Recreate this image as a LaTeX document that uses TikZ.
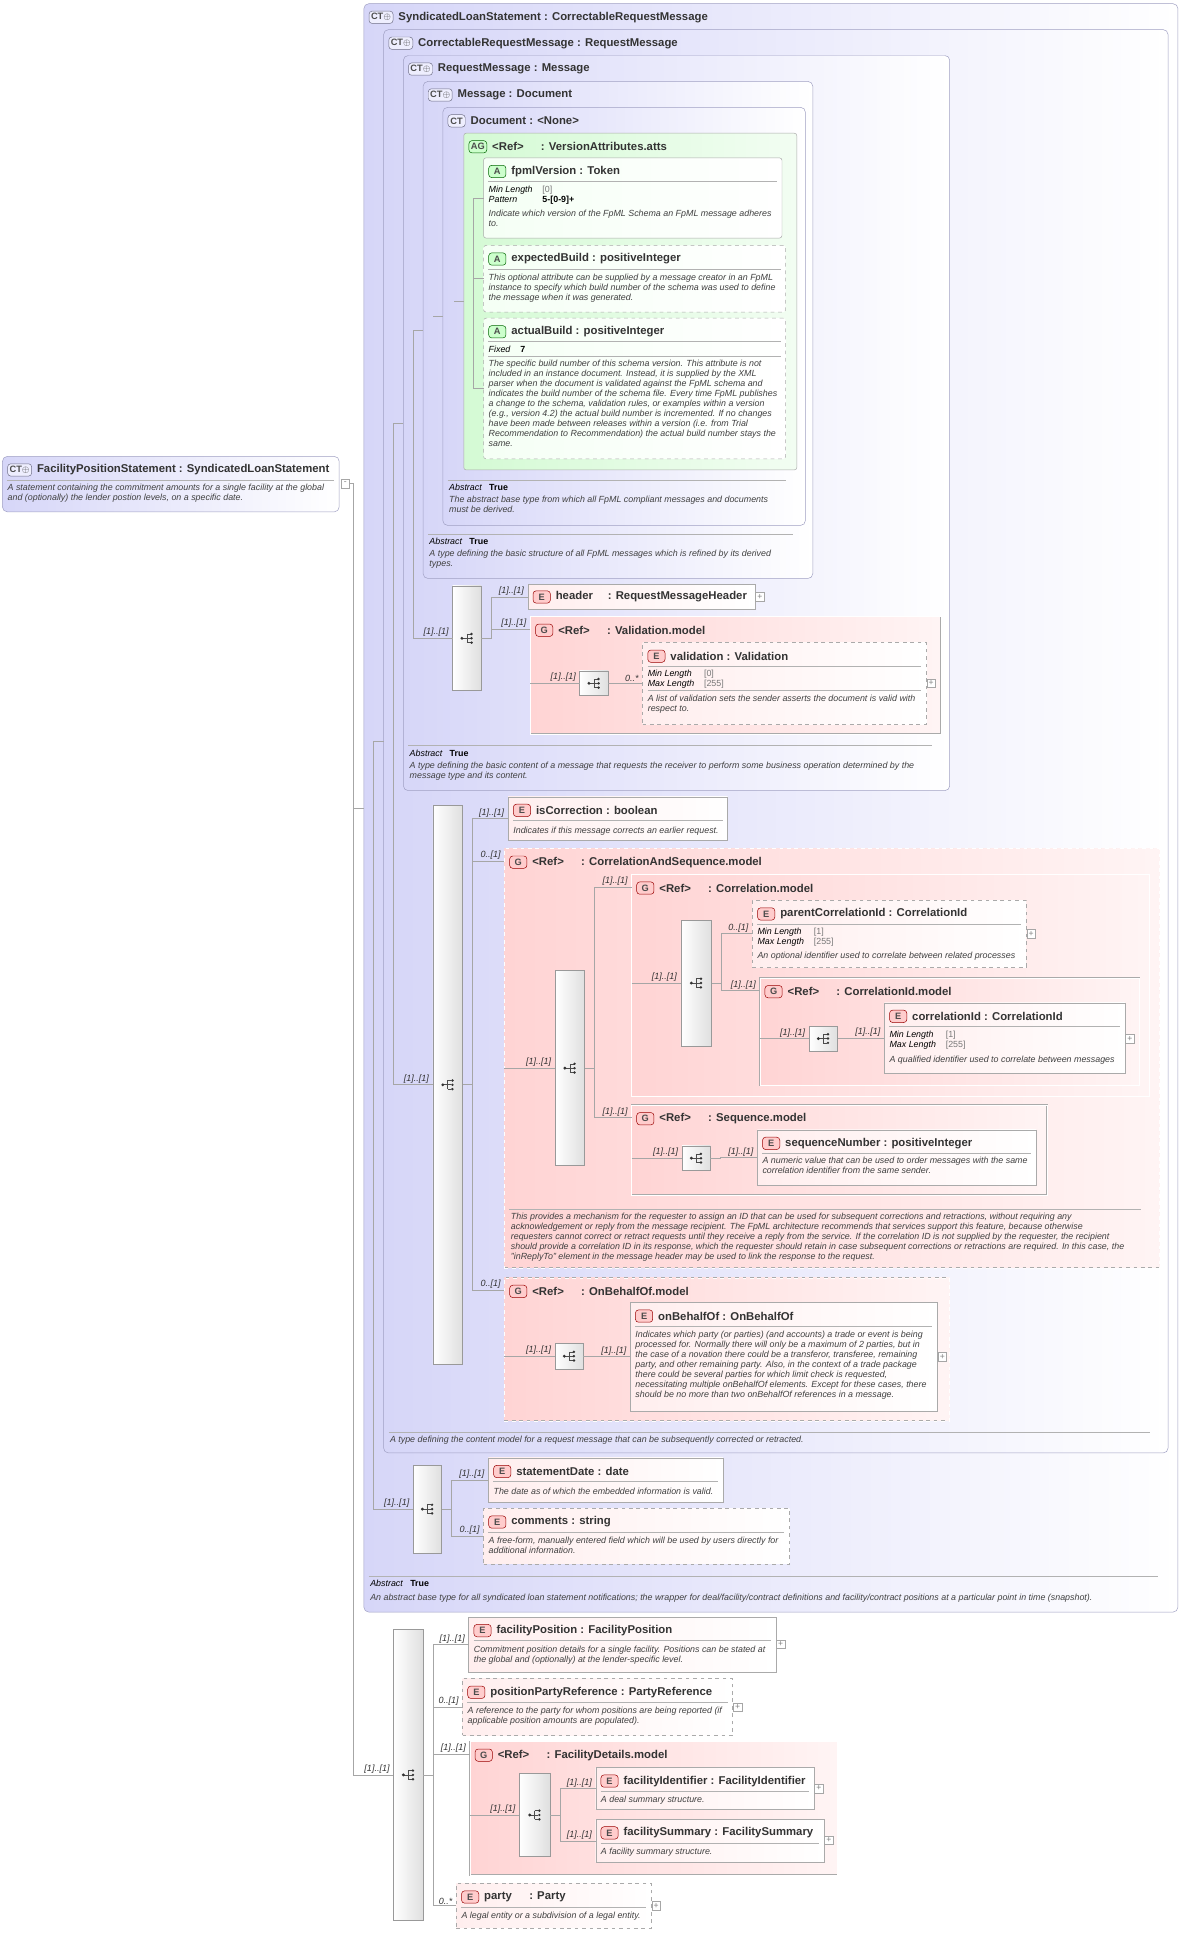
\documentclass[tikz,border=0pt]{standalone}
\usepackage{fontspec}
\setmainfont{Liberation Sans}
\usetikzlibrary{calc}
\definecolor{ctL}{RGB}{214,214,248}
\definecolor{ctB}{RGB}{160,160,195}
\definecolor{agL}{RGB}{212,250,212}
\definecolor{grpL}{RGB}{255,212,212}
\definecolor{elL}{RGB}{255,238,238}
\definecolor{bxB}{RGB}{170,170,170}
\definecolor{facG}{RGB}{120,120,120}
\tikzset{
  base/.style={inner sep=0pt, outer sep=0pt, draw=bxB},
  ctbox/.style={base, draw=ctB, rounded corners=4pt, left color=ctL, right color=white},
  agbox/.style={base, rounded corners=2pt, left color=agL, right color=agL!30},
  abox/.style={base, rounded corners=2pt, left color=green!4, right color=white},
  ebox/.style={base, left color=elL, right color=white},
  gbox/.style={base, double=white, double distance=0.4pt, left color=grpL, right color=grpL!25},
  opt/.style={dashed},
  seqbar/.style={base, draw=gray!80, left color=white, right color=gray!25},
  badge/.style={draw, rounded corners=2.5pt, inner sep=1.6pt, minimum height=10pt, minimum width=14pt,
    font=\bfseries\fontsize{7.5}{8}\selectfont},
  ctb/.style={badge, fill=ctL!80!blue!20, draw=ctB!70!black, text=black!70},
  eb/.style={badge, fill=red!20, draw=red!60!black, text=black!70},
  ab/.style={badge, fill=green!20, draw=green!40!black, text=black!70},
  ttl/.style={inner sep=2pt, font=\bfseries\fontsize{9.2}{10}\selectfont, text=black!80},
  desc/.style={inner sep=0pt, align=left, font=\itshape\fontsize{7.2}{8.1}\selectfont, text=black!75},
  fac/.style={inner sep=0pt, font=\fontsize{7.2}{8.1}\selectfont},
  card/.style={inner sep=0pt, font=\itshape\fontsize{7.3}{8}\selectfont, text=black!80},
  sepl/.style={draw=gray!60, line width=0.4pt},
  conn/.style={draw=gray!70, line width=0.5pt},
  expd/.style={draw=gray!70, fill=white, minimum size=7pt, inner sep=0pt, font=\fontsize{7}{7}\selectfont, text=gray}
}
\tikzset{seqicon/.pic={
  \draw[black!70, line width=0.5pt] (-4,0)--(0,0) (0,-3.5)--(0,3.5);
  \foreach \yy in {-3.5,0,3.5}{\draw[black!70, line width=0.5pt] (0,\yy)--(3,\yy); \fill[black!80] (3.8,\yy) circle (1.1);}
  \fill[black!80] (-4,0) circle (1.3);}}
% box: name, x, y, w, h, style, badge style, badge text, title
\newcommand\bx[9]{%
  \node[#6, minimum width=#4pt, minimum height=#5pt, anchor=north west] (#1) at (#2,#3) {};
  \node[#7, anchor=west] (#1b) at ([xshift=4pt,yshift=-11pt]#1.north west) {#8};
  \node[ttl, anchor=west] (#1t) at ([xshift=2pt]#1b.east) {#9};}
\newcommand\sepr[2]{\draw[sepl] ([xshift=4pt,yshift=-#2pt]#1.north west) -- ([xshift=-4pt,yshift=-#2pt]#1.north east);}
\newcommand\dsc[3]{\node[desc, anchor=north west] at ([xshift=4pt,yshift=-#2pt]#1.north west) {#3};}
\newcommand\sq[5]{%
  \node[seqbar, minimum width=#4pt, minimum height=#5pt, anchor=north west] (#1) at (#2,#3) {};
  \pic at (#1.center) {seqicon};}
\newcommand\crd[2]{\node[card, anchor=south east] at ([xshift=-3pt,yshift=1pt]#1.west) {#2};}
\newcommand\crdg[2]{\node[card, anchor=south east] at ([xshift=-3pt,yshift=-9pt]#1.north west) {#2};}
\newcommand\lnk[2]{\draw[conn] (#1.east) -- ++(8,0) |- (#2.west);}
\newcommand\lnkg[2]{\draw[conn] (#1.east) -- ++(8,0) |- ([yshift=-10pt]#2.north west);}
\newcommand\facet[4]{\node[fac, anchor=north west] at ([xshift=4pt,yshift=-#2pt]#1.north west)
  {\begin{tabular}{@{}l@{\hspace{8pt}}l@{}}\itshape #3\end{tabular}};}

\begin{document}
\begin{tikzpicture}[x=1pt,y=-1pt]
\useasboundingbox[fill=white] (0,0) rectangle (958,1568);

% ---------- top level ----------
\bx{fps}{2}{370}{273}{45}{ctbox}{ctb}{CT$\oplus$}{FacilityPositionStatement : SyndicatedLoanStatement}
\sepr{fps}{19}
\dsc{fps}{22}{A statement containing the commitment amounts for a single facility at the global\\and (optionally) the lender postion levels, on a specific date.}
\node[expd] (fpsx) at (280,392) {-};

\bx{sls}{295}{3}{660}{1304}{ctbox}{ctb}{CT$\oplus$}{SyndicatedLoanStatement : CorrectableRequestMessage}
\bx{crm}{311}{24}{636}{1154}{ctbox}{ctb}{CT$\oplus$}{CorrectableRequestMessage : RequestMessage}
\bx{rm}{327}{45}{443}{596}{ctbox}{ctb}{CT$\oplus$}{RequestMessage : Message}
\bx{msg}{343}{66}{316}{403}{ctbox}{ctb}{CT$\oplus$}{Message : Document}
\bx{doc}{359}{87}{294}{339}{ctbox}{ctb}{CT}{Document : <None>}
\bx{ag}{376}{108}{270}{273}{agbox}{ab}{AG}{<Ref>\hspace{14pt}: VersionAttributes.atts}

% attributes
\bx{fpml}{392}{128}{242}{65}{abox}{ab}{A}{fpmlVersion : Token}
\sepr{fpml}{19}
\facet{fpml}{22}{Min Length & \upshape\color{facG}[0]\\ \itshape Pattern & \upshape\bfseries 5-[0-9]+}{}
\dsc{fpml}{42}{Indicate which version of the FpML Schema an FpML message adheres\\to.}
\bx{ebl}{392}{199}{245}{54}{abox,opt}{ab}{A}{expectedBuild : positiveInteger}
\sepr{ebl}{19}
\dsc{ebl}{23}{This optional attribute can be supplied by a message creator in an FpML\\instance to specify which build number of the schema was used to define\\the message when it was generated.}
\bx{abl}{392}{258}{245}{114}{abox,opt}{ab}{A}{actualBuild : positiveInteger}
\sepr{abl}{19}
\facet{abl}{22}{Fixed & \upshape\bfseries 7}{}
\sepr{abl}{31}
\dsc{abl}{34}{The specific build number of this schema version. This attribute is not\\included in an instance document. Instead, it is supplied by the XML\\parser when the document is validated against the FpML schema and\\indicates the build number of the schema file. Every time FpML publishes\\a change to the schema, validation rules, or examples within a version\\(e.g., version 4.2) the actual build number is incremented. If no changes\\have been made between releases within a version (i.e. from Trial\\Recommendation to Recommendation) the actual build number stays the\\same.}
\draw[conn] (fpml.west) -- ++(-8,0) |- (abl.west);
\draw[conn] (ebl.west) -- ++(-8,0);

% footers of Document / Message
\draw[sepl] (363,389) -- (637,389);
\node[fac, anchor=west] at (364,395) {\itshape Abstract\hspace{6pt}\upshape\bfseries True};
\node[desc, anchor=north west] at (364,402) {The abstract base type from which all FpML compliant messages and documents\\must be derived.};
\draw[sepl] (347,433) -- (643,433);
\node[fac, anchor=west] at (348,439) {\itshape Abstract\hspace{6pt}\upshape\bfseries True};
\node[desc, anchor=north west] at (348,446) {A type defining the basic structure of all FpML messages which is refined by its derived\\types.};
\draw[conn] (ag.west) -- ++(-8,0);
\draw[conn] (doc.west) -- ++(-8,0);

% ---------- RequestMessage sequence ----------
\sq{rseq}{367}{475}{23}{85}
\node[ebox, minimum width=184pt, minimum height=20pt, anchor=north west] (hdr) at (428,474) {};
\node[eb, anchor=west] (hdrb) at ([xshift=4pt]hdr.west) {E};
\node[ttl, anchor=west] at ([xshift=2pt]hdrb.east) {header\hspace{12pt}: RequestMessageHeader};
\node[expd] at (616,484) {+};
\bx{vg}{430}{500}{333}{95}{gbox}{eb}{G}{<Ref>\hspace{14pt}: Validation.model}
\node[seqbar, minimum width=23pt, minimum height=20pt, anchor=north west] (vi) at (470,544) {};
\pic at (vi.center) {seqicon};
\bx{val}{521}{521}{230}{66}{ebox,opt}{eb}{E}{validation : Validation}
\sepr{val}{19}
\facet{val}{22}{Min Length & \upshape\color{facG}[0]\\ \itshape Max Length & \upshape\color{facG}[255]}{}
\sepr{val}{39}
\dsc{val}{42}{A list of validation sets the sender asserts the document is valid with\\respect to.}
\node[expd] at (755,554) {+};
\lnk{rseq}{hdr} \lnkg{rseq}{vg}
\crd{hdr}{[1]..[1]} \crdg{vg}{[1]..[1]}
\draw[conn] (vg.west |- vi.west) -- (vi.west); \crd{vi}{[1]..[1]}
\lnk{vi}{val} \crd{val}{0..*}
\draw[sepl] (331,604) -- (756,604);
\node[fac, anchor=west] at (332,611) {\itshape Abstract\hspace{6pt}\upshape\bfseries True};
\node[desc, anchor=north west] at (332,618) {A type defining the basic content of a message that requests the receiver to perform some business operation determined by the\\message type and its content.};

% ---------- CorrectableRequestMessage sequence ----------
\sq{cseq}{351}{653}{24}{453}
\bx{isc}{412}{646}{178}{35}{ebox}{eb}{E}{isCorrection : boolean}
\sepr{isc}{19}
\dsc{isc}{24}{Indicates if this message corrects an earlier request.}
\bx{cas}{409}{688}{531}{340}{gbox,opt}{eb}{G}{<Ref>\hspace{14pt}: CorrelationAndSequence.model}
\sq{casbar}{450}{787}{24}{158}
\bx{corr}{512}{709}{420}{180}{gbox}{eb}{G}{<Ref>\hspace{14pt}: Correlation.model}
\sq{corrbar}{552}{746}{25}{102}
\bx{pcid}{610}{730}{222}{54}{ebox,opt}{eb}{E}{parentCorrelationId : CorrelationId}
\sepr{pcid}{19}
\facet{pcid}{22}{Min Length & \upshape\color{facG}[1]\\ \itshape Max Length & \upshape\color{facG}[255]}{}
\dsc{pcid}{42}{An optional identifier used to correlate between related processes}
\node[expd] at (836,757) {+};
\bx{cidm}{616}{793}{308}{87}{gbox}{eb}{G}{<Ref>\hspace{14pt}: CorrelationId.model}
\node[seqbar, minimum width=23pt, minimum height=20pt, anchor=north west] (ci) at (656,832) {};
\pic at (ci.center) {seqicon};
\bx{cid}{717}{813}{195}{57}{ebox}{eb}{E}{correlationId : CorrelationId}
\sepr{cid}{19}
\facet{cid}{22}{Min Length & \upshape\color{facG}[1]\\ \itshape Max Length & \upshape\color{facG}[255]}{}
\dsc{cid}{43}{A qualified identifier used to correlate between messages}
\node[expd] at (916,842) {+};
\bx{seqm}{512}{896}{337}{73}{gbox}{eb}{G}{<Ref>\hspace{14pt}: Sequence.model}
\node[seqbar, minimum width=23pt, minimum height=20pt, anchor=north west] (si) at (553,929) {};
\pic at (si.center) {seqicon};
\bx{sn}{614}{916}{226}{45}{ebox}{eb}{E}{sequenceNumber : positiveInteger}
\sepr{sn}{19}
\dsc{sn}{22}{A numeric value that can be used to order messages with the same\\correlation identifier from the same sender.}
\draw[sepl] (413,980) -- (925,980);
\node[desc, anchor=north west] at (414,983) {This provides a mechanism for the requester to assign an ID that can be used for subsequent corrections and retractions, without requiring any\\acknowledgement or reply from the message recipient. The FpML architecture recommends that services support this feature, because otherwise\\requesters cannot correct or retract requests until they receive a reply from the service. If the correlation ID is not supplied by the requester, the recipient\\should provide a correlation ID in its response, which the requester should retain in case subsequent corrections or retractions are required. In this case, the\\"inReplyTo" element in the message header may be used to link the response to the request.};
\bx{obo}{409}{1036}{361}{116}{gbox,opt}{eb}{G}{<Ref>\hspace{14pt}: OnBehalfOf.model}
\node[seqbar, minimum width=23pt, minimum height=21pt, anchor=north west] (oi) at (450,1089) {};
\pic at (oi.center) {seqicon};
\bx{ob}{511}{1056}{249}{88}{ebox}{eb}{E}{onBehalfOf : OnBehalfOf}
\sepr{ob}{19}
\dsc{ob}{23}{Indicates which party (or parties) (and accounts) a trade or event is being\\processed for. Normally there will only be a maximum of 2 parties, but in\\the case of a novation there could be a transferor, transferee, remaining\\party, and other remaining party. Also, in the context of a trade package\\there could be several parties for which limit check is requested,\\necessitating multiple onBehalfOf elements. Except for these cases, there\\should be no more than two onBehalfOf references in a message.}
\node[expd] at (764,1100) {+};
\lnk{cseq}{isc} \lnkg{cseq}{cas} \lnkg{cseq}{obo}
\crd{isc}{[1]..[1]} \crdg{cas}{0..[1]} \crdg{obo}{0..[1]}
\draw[conn] (cas.west |- casbar.west) -- (casbar.west); \crd{casbar}{[1]..[1]}
\lnkg{casbar}{corr} \lnkg{casbar}{seqm} \crdg{corr}{[1]..[1]} \crdg{seqm}{[1]..[1]}
\draw[conn] (corr.west |- corrbar.west) -- (corrbar.west); \crd{corrbar}{[1]..[1]}
\lnk{corrbar}{pcid} \lnkg{corrbar}{cidm} \crd{pcid}{0..[1]} \crdg{cidm}{[1]..[1]}
\draw[conn] (cidm.west |- ci.west) -- (ci.west); \crd{ci}{[1]..[1]}
\lnk{ci}{cid} \crd{cid}{[1]..[1]}
\draw[conn] (seqm.west |- si.west) -- (si.west); \crd{si}{[1]..[1]}
\lnk{si}{sn} \crd{sn}{[1]..[1]}
\draw[conn] (obo.west |- oi.west) -- (oi.west); \crd{oi}{[1]..[1]}
\lnk{oi}{ob} \crd{ob}{[1]..[1]}
\draw[sepl] (315,1161) -- (932,1161);
\node[desc, anchor=north west] at (316,1164) {A type defining the content model for a request message that can be subsequently corrected or retracted.};

% ---------- SyndicatedLoanStatement sequence ----------
\sq{sseq}{335}{1188}{23}{71}
\bx{sd}{396}{1182}{190}{36}{ebox}{eb}{E}{statementDate : date}
\sepr{sd}{19}
\dsc{sd}{24}{The date as of which the embedded information is valid.}
\bx{com}{392}{1223}{248}{45}{ebox,opt}{eb}{E}{comments : string}
\sepr{com}{19}
\dsc{com}{23}{A free-form, manually entered field which will be used by users directly for\\additional information.}
\lnk{sseq}{sd} \lnk{sseq}{com} \crd{sd}{[1]..[1]} \crd{com}{0..[1]}
\draw[sepl] (299,1278) -- (939,1278);
\node[fac, anchor=west] at (300,1284) {\itshape Abstract\hspace{6pt}\upshape\bfseries True};
\node[desc, anchor=north west] at (300,1292) {An abstract base type for all syndicated loan statement notifications; the wrapper for deal/facility/contract definitions and facility/contract positions at a particular point in time (snapshot).};

% ---------- FacilityPositionStatement sequence ----------
\sq{fseq}{319}{1321}{24}{236}
\crd{fseq}{[1]..[1]}
\bx{fp}{380}{1311}{249}{45}{ebox}{eb}{E}{facilityPosition : FacilityPosition}
\sepr{fp}{19}
\dsc{fp}{23}{Commitment position details for a single facility. Positions can be stated at\\the global and (optionally) at the lender-specific level.}
\node[expd] at (633,1333) {+};
\bx{ppr}{375}{1361}{219}{46}{ebox,opt}{eb}{E}{positionPartyReference : PartyReference}
\sepr{ppr}{19}
\dsc{ppr}{23}{A reference to the party for whom positions are being reported (if\\applicable position amounts are populated).}
\node[expd] at (598,1384) {+};
\bx{fdm}{381}{1412}{298}{108}{gbox}{eb}{G}{<Ref>\hspace{14pt}: FacilityDetails.model}
\sq{fdbar}{421}{1438}{25}{67}
\bx{fid}{483}{1433}{177}{34}{ebox}{eb}{E}{facilityIdentifier : FacilityIdentifier}
\sepr{fid}{19}
\dsc{fid}{23}{A deal summary structure.}
\node[expd] at (664,1450) {+};
\bx{fsum}{483}{1475}{185}{35}{ebox}{eb}{E}{facilitySummary : FacilitySummary}
\sepr{fsum}{19}
\dsc{fsum}{23}{A facility summary structure.}
\node[expd] at (672,1492) {+};
\node[ebox,opt, minimum width=158pt, minimum height=36pt, anchor=north west] (party) at (370,1527) {};
\node[eb, anchor=west] (partyb) at ([xshift=4pt,yshift=-11pt]party.north west) {E};
\node[ttl, anchor=west] at ([xshift=2pt]partyb.east) {party\hspace{14pt}: Party};
\sepr{party}{19}
\dsc{party}{23}{A legal entity or a subdivision of a legal entity.}
\node[expd] at (532,1545) {+};
\lnk{fseq}{fp} \lnk{fseq}{ppr} \lnkg{fseq}{fdm} \lnk{fseq}{party}
\crd{fp}{[1]..[1]} \crd{ppr}{0..[1]} \crdg{fdm}{[1]..[1]} \crd{party}{0..*}
\draw[conn] (fdm.west |- fdbar.west) -- (fdbar.west); \crd{fdbar}{[1]..[1]}
\lnk{fdbar}{fid} \lnk{fdbar}{fsum} \crd{fid}{[1]..[1]} \crd{fsum}{[1]..[1]}

% ---------- type hierarchy connectors ----------
\draw[conn] (fpsx.east) -- ++(3,0) coordinate (j0);
\draw[conn] (sls.west) -| (j0) |- (fseq.west);
\draw[conn] (crm.west) -- ++(-8,0) |- (sseq.west); \crd{sseq}{[1]..[1]}
\draw[conn] (rm.west) -- ++(-8,0) |- (cseq.west); \crd{cseq}{[1]..[1]}
\draw[conn] (msg.west) -- ++(-8,0) |- (rseq.west); \crd{rseq}{[1]..[1]}
\end{tikzpicture}
\end{document}
